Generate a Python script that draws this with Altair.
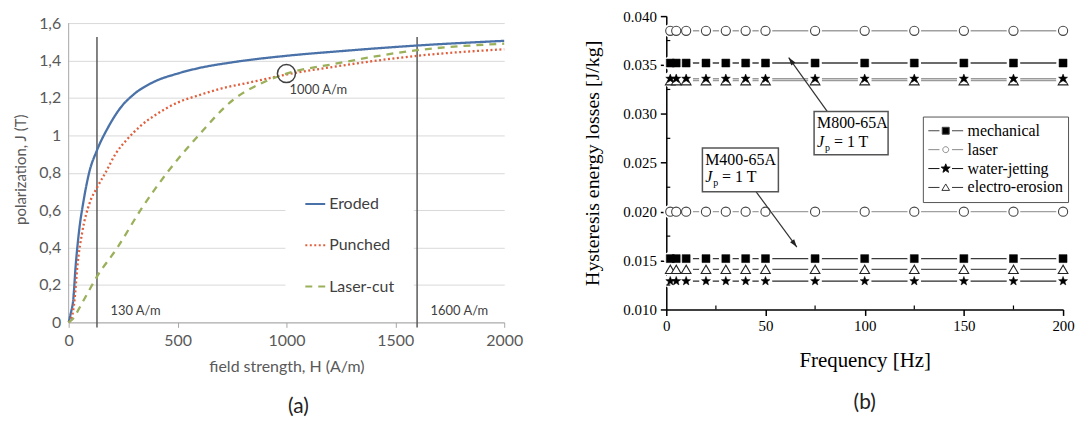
import math
import altair as alt
import pandas as pd

# ---------------- Panel (a): polarization curves ----------------
series_names = ["Eroded", "Punched", "Laser-cut"]
series_colors = ["#4A72A8", "#E0603E", "#9BB05A"]

eroded_H = [0, 10, 21, 32, 47, 70, 94, 130, 180, 240, 300, 390, 500, 600, 750, 1000, 1250, 1600, 2000]
eroded_J = [0, 0.05, 0.12, 0.30, 0.48, 0.66, 0.80, 0.92, 1.04, 1.15, 1.22, 1.285, 1.33, 1.36, 1.39, 1.425, 1.45, 1.48, 1.505]
punched_H = [0, 15, 27, 40, 62, 97, 130, 169, 215, 270, 330, 400, 500, 600, 700, 800, 900, 1000, 1210, 1600, 2000]
punched_J = [0, 0.03, 0.12, 0.30, 0.48, 0.64, 0.72, 0.80, 0.90, 0.98, 1.05, 1.11, 1.175, 1.215, 1.25, 1.275, 1.30, 1.325, 1.365, 1.425, 1.46]
laser_H = [0, 20, 60, 130, 224, 330, 452, 589, 756, 908, 1000, 1212, 1600, 2000]
laser_J = [0, 0.02, 0.10, 0.245, 0.40, 0.60, 0.80, 0.99, 1.19, 1.29, 1.33, 1.38, 1.455, 1.49]

ref_H = [130, 1600]
ref_top = [1.525, 1.525]
ref_bottom = [-0.027, -0.027]

note_text = ["130 A/m", "1600 A/m", "1000 A/m"]
note_H = [192, 1662, 1014]
note_J = [0.06, 0.06, 1.24]

circle_H = [1000]
circle_J = [1.33]

a_x_ticks = [0, 500, 1000, 1500, 2000]
a_y_ticks = [0, 0.2, 0.4, 0.6, 0.8, 1.0, 1.2, 1.4, 1.6]
a_axis_H = [0, 0]
a_axis_J = [0, 1.6]

# ---------------- Panel (b): hysteresis energy losses ----------------
methods = ["mechanical", "laser", "water-jetting", "electro-erosion"]
freqs = [2, 5, 10, 20, 30, 40, 50, 75, 100, 125, 150, 175, 200]

m800_mechanical = [0.0352, 0.0352, 0.0352, 0.0352, 0.0352, 0.0352, 0.0352, 0.0352, 0.0352, 0.0352, 0.0352, 0.0352, 0.0352]
m800_laser = [0.0385, 0.0385, 0.0385, 0.0385, 0.0385, 0.0385, 0.0385, 0.0385, 0.0385, 0.0385, 0.0385, 0.0385, 0.0385]
m800_water = [0.0336, 0.0336, 0.0336, 0.0336, 0.0336, 0.0336, 0.0336, 0.0336, 0.0336, 0.0336, 0.0336, 0.0336, 0.0336]
m800_erosion = [0.0334, 0.0334, 0.0334, 0.0334, 0.0334, 0.0334, 0.0334, 0.0334, 0.0334, 0.0334, 0.0334, 0.0334, 0.0334]
m400_mechanical = [0.0152, 0.0152, 0.0152, 0.0152, 0.0152, 0.0152, 0.0152, 0.0152, 0.0152, 0.0152, 0.0152, 0.0152, 0.0152]
m400_laser = [0.0200, 0.0200, 0.0200, 0.0200, 0.0200, 0.0200, 0.0200, 0.0200, 0.0200, 0.0200, 0.0200, 0.0200, 0.0200]
m400_water = [0.0129, 0.0129, 0.0129, 0.0129, 0.0129, 0.0129, 0.0129, 0.0129, 0.0129, 0.0129, 0.0129, 0.0129, 0.0129]
m400_erosion = [0.0141, 0.0141, 0.0141, 0.0141, 0.0141, 0.0141, 0.0141, 0.0141, 0.0141, 0.0141, 0.0141, 0.0141, 0.0141]

b_x_ticks = [0, 50, 100, 150, 200]
b_y_ticks = [0.010, 0.015, 0.020, 0.025, 0.030, 0.035, 0.040]
b_x_minor = [25, 75, 125, 175]
b_y_minor = [0.0125, 0.0175, 0.0225, 0.0275, 0.0325, 0.0375]

box_x1 = [74.5, 18.2]
box_x2 = [111.8, 56.5]
box_y1 = [0.03024, 0.02650]
box_y2 = [0.02583, 0.02203]
mat_text = ["M800-65A", "M400-65A"]
mat_f = [76.0, 19.6]
mat_v = [0.02905, 0.02532]
jp_v = [0.02711, 0.02356]
arrow_tail_f = [81.2, 45.3]
arrow_tail_v = [0.03024, 0.02203]
arrow_head_f = [61.7, 65.8]
arrow_head_v = [0.03576, 0.01638]

# ================= build panel (a) =================
rows = []
for name, hs, js in [("Eroded", eroded_H, eroded_J), ("Punched", punched_H, punched_J), ("Laser-cut", laser_H, laser_J)]:
    for h, j in zip(hs, js):
        rows.append({"series": name, "H": h, "J": j})
curves_df = pd.DataFrame(rows)

GREY_TXT = "#595959"
A_YDOM = [0, 1.6 + 7 / (301 / 1.6)]   # 7 px of head-room above the 1,6 line
xa = alt.X("H:Q", scale=alt.Scale(domain=[0, 2000], nice=False),
           axis=alt.Axis(values=a_x_ticks, format="d", title="field strength, H (A/m)", grid=False,
                         domainColor="#A6A6A6", tickColor="#A6A6A6", tickSize=5,
                         labelFont="Lato", labelFontSize=16, labelColor=GREY_TXT,
                         titleFont="Lato", titleFontSize=16, titleColor=GREY_TXT,
                         titleFontWeight="normal", labelPadding=5, titlePadding=10,
                         labelFlush=False))
ya = alt.Y("J:Q", scale=alt.Scale(domain=A_YDOM, nice=False),
           axis=alt.Axis(values=a_y_ticks, labelExpr="replace(toString(datum.value), '.', ',')",
                         title="polarization, J (T)", grid=True, gridColor="#D9D9D9",
                         domain=False, ticks=False, labelPadding=8, titlePadding=10,
                         labelFont="Lato", labelFontSize=16, labelColor=GREY_TXT,
                         titleFont="Lato", titleFontSize=15, titleColor=GREY_TXT,
                         titleFontWeight="normal"))

legend_a = alt.Legend(title=None, orient="none", legendX=218, legendY=160, padding=19,
                      fillColor="white", symbolType="stroke", symbolSize=400,
                      symbolStrokeWidth=2, labelFont="Lato", labelFontSize=16,
                      labelColor="#404040", rowPadding=21.5, labelOffset=3, clipHeight=20)

axis_line_a = alt.Chart(pd.DataFrame({"H": a_axis_H, "J": a_axis_J})).mark_line(
    color="#A6A6A6", strokeWidth=1).encode(x=xa, y=ya)

rules_a = alt.Chart(pd.DataFrame({"H": ref_H, "J": ref_top, "J2": ref_bottom})).mark_rule(
    color="#5A5A5A", strokeWidth=1.5).encode(x=xa, y=ya, y2="J2:Q")

curves_a = alt.Chart(curves_df).mark_line(interpolate="monotone", strokeWidth=2.3).encode(
    x=xa, y=ya,
    color=alt.Color("series:N", scale=alt.Scale(domain=series_names, range=series_colors), legend=legend_a),
    strokeDash=alt.StrokeDash("series:N", scale=alt.Scale(domain=series_names, range=[[1, 0], [2, 2.5], [7, 6]]), legend=legend_a),
)

circle_a = alt.Chart(pd.DataFrame({"H": circle_H, "J": circle_J})).mark_point(
    shape="circle", size=330, stroke="#404040", strokeWidth=1.5, filled=False, opacity=1).encode(x=xa, y=ya)

notes_a = alt.Chart(pd.DataFrame({"t": note_text, "H": note_H, "J": note_J})).mark_text(
    align="left", baseline="middle", font="Lato", fontSize=13, color="#404040").encode(x=xa, y=ya, text="t:N")

panel_a = alt.layer(axis_line_a, rules_a, curves_a, circle_a, notes_a).properties(
    width=438, height=308,
    title=alt.TitleParams("(a)", orient="bottom", anchor="middle", font="Lato", fontSize=21,
                          fontWeight="normal", color="#222222", offset=22, dx=12))

# ================= build panel (b) =================
brows = []
for mat, vals in [("M800", [m800_mechanical, m800_laser, m800_water, m800_erosion]),
                  ("M400", [m400_mechanical, m400_laser, m400_water, m400_erosion])]:
    for meth, vs in zip(methods, vals):
        for f, v in zip(freqs, vs):
            brows.append({"material": mat, "method": meth, "grp": mat + " " + meth, "f": f, "v": v})
b_df = pd.DataFrame(brows)

grp_domain = ["M800 mechanical", "M800 laser", "M800 water-jetting", "M800 electro-erosion",
              "M400 mechanical", "M400 laser", "M400 water-jetting", "M400 electro-erosion"]
grp_colors = ["#3A3A3A", "#A0A0A0", "#9A9A9A", "#9A9A9A",
              "#3A3A3A", "#A0A0A0", "#2A2A2A", "#555555"]

SERIF = "Liberation Serif"
XB_SCALE = alt.Scale(domain=[0, 200], nice=False)
YB_SCALE = alt.Scale(domain=[0.010, 0.040], nice=False)
xb = alt.X("f:Q", scale=XB_SCALE,
           axis=alt.Axis(values=b_x_ticks, title="Frequency [Hz]", grid=False, tickSize=6,
                         tickColor="black", tickWidth=1.5, domainColor="black", domainWidth=1.5,
                         labelFont=SERIF, labelFontSize=15, labelColor="black", labelPadding=3,
                         titleFont=SERIF, titleFontSize=21, titleColor="black",
                         titleFontWeight="normal", titlePadding=16, labelFlush=False))
yb = alt.Y("v:Q", scale=YB_SCALE,
           axis=alt.Axis(values=b_y_ticks, format=".3f", title="Hysteresis energy losses [J/kg]",
                         grid=False, tickSize=6, tickColor="black", tickWidth=1.5,
                         domainColor="black", domainWidth=1.5, labelFont=SERIF, labelFontSize=15,
                         labelColor="black", labelPadding=4, titleFont=SERIF, titleFontSize=20,
                         titleColor="black", titleFontWeight="normal", titlePadding=20))

lines_b = alt.Chart(b_df).mark_line(strokeWidth=1.4).encode(
    x=xb, y=yb, detail="grp:N",
    color=alt.Color("grp:N", scale=alt.Scale(domain=grp_domain, range=grp_colors), legend=None))

halo_b = alt.Chart(b_df).mark_point(shape="circle", filled=True, color="white", size=190,
                                     opacity=1, strokeWidth=0).encode(x=xb, y=yb)


def star_path(R, r):
    pts = []
    for k in range(10):
        ang = math.radians(-90 + 36 * k)
        rad = R if k % 2 == 0 else r
        pts.append(f"{rad * math.cos(ang):.3f},{rad * math.sin(ang):.3f}")
    return "M" + "L".join(pts) + "Z"


STAR = star_path(1.0, 0.42)

mk_laser = alt.Chart(b_df).transform_filter("datum.method == 'laser'").mark_point(
    shape="circle", size=85, fill="white", stroke="#444444", strokeWidth=1.1, opacity=1).encode(x=xb, y=yb)
mk_mech = alt.Chart(b_df).transform_filter("datum.method == 'mechanical'").mark_point(
    shape="square", size=64, fill="black", stroke="black", strokeWidth=0.5, opacity=1).encode(x=xb, y=yb)
mk_ero = alt.Chart(b_df).transform_filter("datum.method == 'electro-erosion'").mark_point(
    shape="triangle-up", size=95, fill="white", stroke="#222222", strokeWidth=1.1, opacity=1).encode(x=xb, y=yb)
mk_water = alt.Chart(b_df).transform_filter("datum.method == 'water-jetting'").mark_point(
    shape=STAR, size=90, fill="black", stroke="black", strokeWidth=0.5, opacity=1).encode(x=xb, y=yb)

# legend-only layer (no data drawn)
LINE_BITS = "M-1,0H-0.36M0.36,0H1"
leg_shapes = [
    LINE_BITS + "M-0.2,-0.2H0.2V0.2H-0.2Z",
    LINE_BITS + "M0.17,0A0.17,0.17 0 1,1 -0.17,0A0.17,0.17 0 1,1 0.17,0Z",
    LINE_BITS + star_path(0.27, 0.11),
    LINE_BITS + "M0,-0.2L0.22,0.17L-0.22,0.17Z",
]
legend_b = alt.Legend(title=None, orient="none", legendX=258, legendY=101, padding=5,
                      fillColor="white", strokeColor="#555555", symbolSize=1225,
                      symbolStrokeWidth=1, labelFont=SERIF, labelFontSize=16, labelColor="black",
                      rowPadding=0, clipHeight=18.6, labelOffset=4)
leg_layer = alt.Chart(b_df).transform_filter("datum.f < 0").mark_point(size=1225, opacity=1).encode(
    x=xb, y=yb,
    shape=alt.Shape("method:N", scale=alt.Scale(domain=methods, range=leg_shapes), legend=legend_b),
    fill=alt.Fill("method:N", scale=alt.Scale(domain=methods, range=["black", "white", "black", "white"]), legend=legend_b),
    stroke=alt.Stroke("method:N", scale=alt.Scale(domain=methods, range=["#444444", "#888888", "#111111", "#333333"]), legend=legend_b),
)

minor_x = alt.Chart(pd.DataFrame({"f": b_x_minor})).mark_rule(color="black", strokeWidth=1.2).encode(
    x=xb, y=alt.value(295), y2=alt.value(291))
minor_y = alt.Chart(pd.DataFrame({"v": b_y_minor})).mark_rule(color="black", strokeWidth=1.2).encode(
    y=yb, x=alt.value(0), x2=alt.value(4))

ann_df = pd.DataFrame({"x1": box_x1, "x2": box_x2, "y1": box_y1, "y2": box_y2,
                       "t": mat_text, "f": mat_f, "v": mat_v, "vj": jp_v})
boxes = alt.Chart(ann_df).mark_rect(fill="white", stroke="#555555", strokeWidth=1.5).encode(
    x=alt.X("x1:Q", scale=XB_SCALE), x2="x2:Q",
    y=alt.Y("y1:Q", scale=YB_SCALE), y2="y2:Q")
mat_lbl = alt.Chart(ann_df).mark_text(align="left", baseline="middle", font=SERIF, fontSize=16,
                                      color="black").encode(x=xb, y=yb, text="t:N")
j_lbl = alt.Chart(ann_df).mark_text(align="left", baseline="middle", font=SERIF, fontSize=16,
                                    fontStyle="italic", color="black", text="J").encode(
    x=xb, y=alt.Y("vj:Q", scale=YB_SCALE))
p_lbl = alt.Chart(ann_df).mark_text(align="left", baseline="middle", font=SERIF, fontSize=10,
                                    color="black", text="p", dx=8, dy=6).encode(
    x=xb, y=alt.Y("vj:Q", scale=YB_SCALE))
eq_lbl = alt.Chart(ann_df).mark_text(align="left", baseline="middle", font=SERIF, fontSize=16,
                                     color="black", text="= 1 T", dx=17).encode(
    x=xb, y=alt.Y("vj:Q", scale=YB_SCALE))

PXF = 399 / 200
PXV = 295 / 0.030
arr_ang = [math.degrees(math.atan2((hf - tf) * PXF, (hv - tv) * PXV))
           for tf, tv, hf, hv in zip(arrow_tail_f, arrow_tail_v, arrow_head_f, arrow_head_v)]
arr_df = pd.DataFrame({"f": arrow_tail_f, "v": arrow_tail_v, "f2": arrow_head_f, "v2": arrow_head_v,
                       "ang": arr_ang})
arrows = alt.Chart(arr_df).mark_rule(color="#333333", strokeWidth=1.2).encode(
    x=xb, y=yb, x2="f2:Q", y2="v2:Q")
heads = alt.Chart(arr_df).mark_point(shape="M0,0L0.32,1L-0.32,1Z", size=256, filled=True,
                                     color="#222222", opacity=1).encode(
    x=alt.X("f2:Q", scale=XB_SCALE),
    y=alt.Y("v2:Q", scale=YB_SCALE),
    angle=alt.Angle("ang:Q", scale=None))

panel_b = alt.layer(lines_b, halo_b, mk_laser, mk_mech, mk_ero, mk_water, leg_layer, minor_x, minor_y,
                    arrows, heads, boxes, mat_lbl, j_lbl, p_lbl, eq_lbl).resolve_scale(
    shape="independent", fill="independent", stroke="independent").properties(
    width=399, height=295,
    title=alt.TitleParams("(b)", orient="bottom", anchor="middle", font="Lato", fontSize=21,
                          fontWeight="normal", color="#222222", offset=22))

chart = alt.hconcat(panel_a, panel_b, spacing=60).resolve_scale(
    color="independent", strokeDash="independent", shape="independent",
    fill="independent", stroke="independent"
).properties(
    padding={"left": 5, "top": 0, "right": 0, "bottom": 0}, background="white"
).configure_view(stroke=None)

chart.save("out.html", embed_options={"renderer": "svg", "actions": False})
